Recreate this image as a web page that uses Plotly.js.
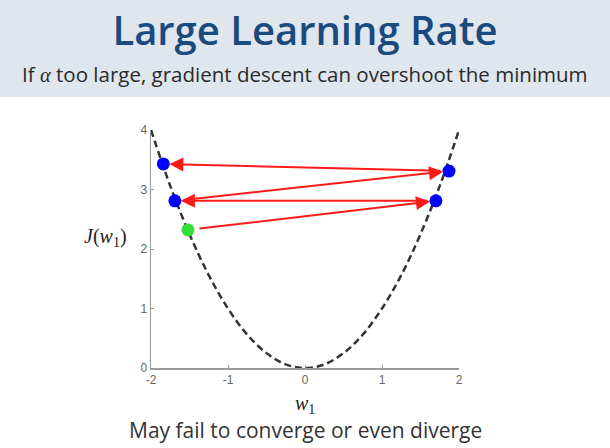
<!DOCTYPE html>
<html>
<head>
<meta charset="utf-8">
<script src="https://cdn.plot.ly/plotly-3.0.1.min.js"></script>
<style>html,body{margin:0;padding:0;background:#fff;}#chart{width:610px;height:448px;}</style>
</head>
<body>
<div id="chart"></div>
<script>
// Cost curve J(w1)
var curveW = [-2, -1.75, -1.5, -1.25, -1, -0.75, -0.5, -0.25, 0, 0.25, 0.5, 0.75, 1, 1.25, 1.5, 1.75, 2];
var curveJ = [4, 3.06, 2.25, 1.56, 1, 0.56, 0.25, 0.06, 0, 0.06, 0.25, 0.56, 1, 1.56, 2.25, 3.06, 4];
// Gradient descent iterates (start = green, then blue), in order
var stepW = [-1.52, 1.70, -1.69, 1.87, -1.84];
var stepJ = [2.32, 2.81, 2.81, 3.31, 3.43];
var xTicks = [-2, -1, 0, 1, 2];
var yTicks = [0, 1, 2, 3, 4];

var traces = [
  {x: curveW, y: curveJ, mode: 'lines', line: {shape: 'spline', color: '#333333', width: 2.5, dash: '7px,4px'}, hoverinfo: 'skip', showlegend: false},
  {x: stepW.slice(1), y: stepJ.slice(1), mode: 'markers', marker: {color: '#0000ff', size: 13}, showlegend: false},
  {x: stepW.slice(0, 1), y: stepJ.slice(0, 1), mode: 'markers', marker: {color: '#33e033', size: 13}, showlegend: false}
];

var anns = [];
for (var i = 0; i < stepW.length - 1; i++) {
  anns.push({
    x: stepW[i + 1], y: stepJ[i + 1], ax: stepW[i], ay: stepJ[i],
    xref: 'x', yref: 'y', axref: 'x', ayref: 'y', text: '',
    showarrow: true, arrowhead: 2, arrowsize: 1.4, arrowwidth: 2, arrowcolor: '#ff1a1a',
    standoff: 6, startstandoff: i === 0 ? 10 : 7
  });
}
anns.push({
  xref: 'paper', yref: 'paper', x: -0.149, y: 0.55, xanchor: 'center', yanchor: 'middle', showarrow: false,
  text: '<i>J</i>(<i>w</i><sub>1</sub>)', font: {family: 'Liberation Serif, serif', size: 20, color: '#222'}
});
anns.push({
  xref: 'paper', yref: 'paper', x: 0.5, y: -0.155, xanchor: 'center', yanchor: 'middle', showarrow: false,
  text: '<i>w</i><sub>1</sub>', font: {family: 'Liberation Serif, serif', size: 20, color: '#222'}
});
anns.push({
  xref: 'paper', yref: 'paper', x: 0.5, y: -0.26, xanchor: 'center', yanchor: 'middle', showarrow: false,
  text: 'May fail to converge or even diverge', font: {family: 'Open Sans, sans-serif', size: 21, color: '#333'}
});
anns.push({
  xref: 'paper', yref: 'paper', x: 0.5, y: 1.237, xanchor: 'center', yanchor: 'middle', showarrow: false,
  text: 'If <span style="font-family:Liberation Serif"><i>α</i></span> too large, gradient descent can overshoot the minimum',
  font: {family: 'Open Sans, sans-serif', size: 20.5, color: '#2a2a2a', weight: 500}
});

var layout = {
  width: 610, height: 448,
  margin: {l: 151, r: 151, t: 130, b: 80},
  paper_bgcolor: '#ffffff', plot_bgcolor: '#ffffff',
  title: {text: 'Large Learning Rate', x: 0.5, xanchor: 'center', y: 1 - 31 / 448, yanchor: 'middle',
          font: {family: 'Open Sans, sans-serif', size: 40, color: '#1a4b7e', weight: 600}},
  xaxis: {range: [-2, 2], tickvals: xTicks, ticktext: xTicks.map(String), showgrid: false, zeroline: false,
          showline: true, linecolor: '#9a9a9a', linewidth: 1.5, ticks: 'inside', ticklen: 3, tickcolor: '#9a9a9a',
          tickfont: {family: 'Liberation Sans, Arial, sans-serif', size: 12, color: '#666'}, fixedrange: true},
  yaxis: {range: [0, 4], tickvals: yTicks, ticktext: yTicks.map(String), showgrid: false, zeroline: false,
          showline: true, linecolor: '#9a9a9a', linewidth: 1.5, ticks: 'inside', ticklen: 3, tickcolor: '#9a9a9a',
          tickfont: {family: 'Liberation Sans, Arial, sans-serif', size: 12, color: '#666'}, fixedrange: true},
  shapes: [{type: 'rect', xref: 'paper', yref: 'paper', x0: -0.5, x1: 1.5, y0: (368 - 97) / 238, y1: 2,
            fillcolor: '#dfe6ee', line: {width: 0}, layer: 'below'}],
  annotations: anns,
  showlegend: false
};

Plotly.newPlot('chart', traces, layout, {displayModeBar: false, staticPlot: true});
</script>
</body>
</html>
